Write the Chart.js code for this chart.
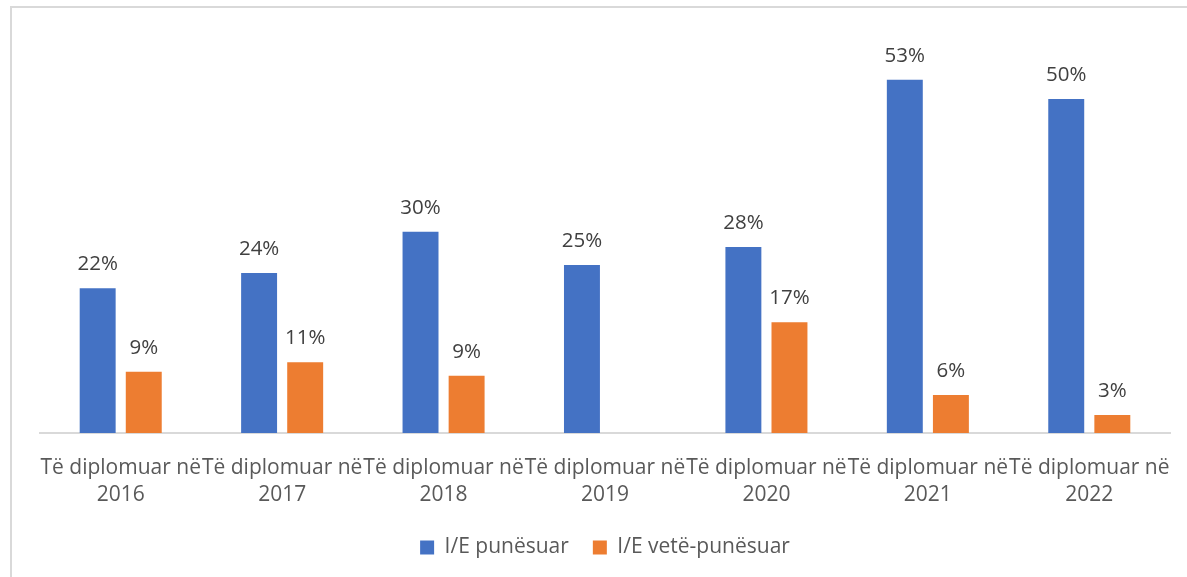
<!DOCTYPE html>
<html>
<head>
<meta charset="utf-8">
<script src="https://cdn.jsdelivr.net/npm/chart.js@4/dist/chart.umd.min.js"></script>
<style>
  html, body { margin: 0; padding: 0; background: #fff; overflow: hidden; }
  #frame { position: absolute; left: 10px; top: 6px; width: 1300px; height: 700px; border: 2px solid #d9d9d9; box-sizing: border-box; }
  #wrap { position: absolute; left: 0; top: 0; width: 1187px; height: 577px; }
</style>
</head>
<body>
<div id="frame"></div>
<div id="wrap"><canvas id="c" width="1187" height="577"></canvas></div>
<script>
const categories = [
  ["Të diplomuar në", "2016"],
  ["Të diplomuar në", "2017"],
  ["Të diplomuar në", "2018"],
  ["Të diplomuar në", "2019"],
  ["Të diplomuar në", "2020"],
  ["Të diplomuar në", "2021"],
  ["Të diplomuar në", "2022"]
];
const seriesNames = ["I/E punësuar", "I/E vetë-punësuar"];
const employed = [21.7, 24.0, 30.2, 25.2, 27.9, 53.0, 50.1];
const selfEmployed = [9.2, 10.6, 8.6, null, 16.6, 5.7, 2.7];

const FONT = "'Open Sans'";

const labelPlugin = {
  id: 'valueLabels',
  afterDatasetsDraw(chart) {
    const ctx = chart.ctx;
    ctx.save();
    ctx.font = "20.5px " + FONT;
    ctx.fillStyle = "#404040";
    ctx.textAlign = "center";
    ctx.textBaseline = "alphabetic";
    chart.data.datasets.forEach((ds, i) => {
      const meta = chart.getDatasetMeta(i);
      meta.data.forEach((el, j) => {
        const v = ds.data[j];
        if (v === null || v === undefined) return;
        ctx.fillText(Math.round(v) + "%", el.x, el.y - 18);
      });
    });
    ctx.restore();
  }
};

new Chart(document.getElementById('c'), {
  type: 'bar',
  data: {
    labels: categories,
    datasets: [
      { label: seriesNames[0], data: employed, backgroundColor: "#4472C4", barPercentage: 0.78, categoryPercentage: 0.571 },
      { label: seriesNames[1], data: selfEmployed, backgroundColor: "#ED7D31", barPercentage: 0.78, categoryPercentage: 0.571 }
    ]
  },
  options: {
    responsive: false,
    animation: false,
    devicePixelRatio: 1,
    layout: { padding: { left: 40, right: 17, top: 33, bottom: 9 } },
    plugins: {
      tooltip: { enabled: false },
      legend: {
        position: 'bottom',
        labels: {
          font: { family: "Open Sans", size: 21 },
          color: "#595959",
          boxWidth: 14,
          boxHeight: 14,
          padding: 24
        }
      }
    },
    scales: {
      x: {
        afterFit(scale) { scale.height = 80; scale.paddingLeft = 0; scale.paddingRight = 0; },
        grid: { display: false, drawTicks: false },
        border: { display: true, color: "#d9d9d9", width: 2 },
        ticks: {
          font: { family: "Open Sans", size: 21, lineHeight: 1.28 },
          color: "#595959",
          autoSkip: false,
          maxRotation: 0,
          minRotation: 0,
          padding: 22
        }
      },
      y: {
        display: false,
        min: 0,
        max: 60
      }
    }
  },
  plugins: [labelPlugin]
});
</script>
</body>
</html>
